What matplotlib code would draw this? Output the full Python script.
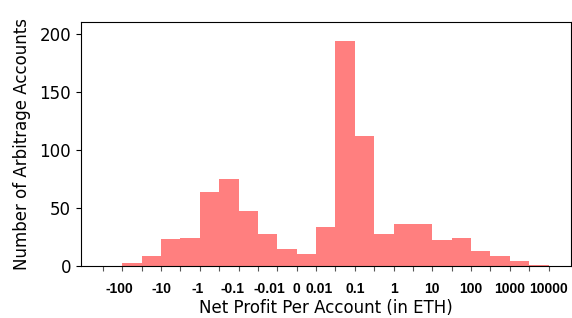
import matplotlib
matplotlib.use("Agg")
import matplotlib.pyplot as plt
from matplotlib.transforms import ScaledTranslation

# histogram bins on an index scale (bin i spans tick i .. i+1)
bin_left = list(range(1, 23))
counts = [3, 9, 23, 24, 64, 75, 47, 28, 15, 10, 34,
          194, 112, 28, 36, 36, 22, 24, 13, 9, 4, 1]

tick_pos = list(range(0, 24))
label_pos = [1, 3, 5, 7, 9, 10, 11, 13, 15, 17, 19, 21, 23]
label_txt = ['-100', '-10', '-1', '-0.1', '-0.01', '0', '0.01',
             '0.1', '1', '10', '100', '1000', '10000']
# small sideways nudges (pixels) of crowded labels, as in the original
label_nudge = {'-100': -3, '-1': -2, '-0.1': -6, '-0.01': -8, '0.01': 3}

fig = plt.figure(figsize=(5.72, 3.18), dpi=100)
ax = fig.add_axes([0.141, 0.1635, 0.857, 0.766])

ax.bar(bin_left, counts, width=1.0, align='edge', color='red', alpha=0.5,
       linewidth=0)

ax.set_xlim(-1.15, 24.15)
ax.set_ylim(0, 210)
ax.set_yticks([0, 50, 100, 150, 200])
ax.tick_params(axis='y', labelsize=12)

# every tick gets a mark, only some get a label
labels = dict(zip(label_pos, label_txt))
ax.set_xticks(tick_pos)
ax.set_xticklabels([labels.get(p, '') for p in tick_pos],
                   fontsize=10, fontweight='bold', family='Liberation Sans')
ax.tick_params(axis='x', length=3.5, color='#555555', pad=8)

for tick in ax.xaxis.get_major_ticks():
    txt = tick.label1.get_text()
    if txt in label_nudge:
        shift = ScaledTranslation(label_nudge[txt] / 100, 0, fig.dpi_scale_trans)
        tick.label1.set_transform(tick.label1.get_transform() + shift)

ax.set_xlabel('Net Profit Per Account (in ETH)', fontsize=12, labelpad=2)
ax.set_ylabel('Number of Arbitrage Accounts', fontsize=12, labelpad=6)

fig.savefig('out.png', dpi=100)
